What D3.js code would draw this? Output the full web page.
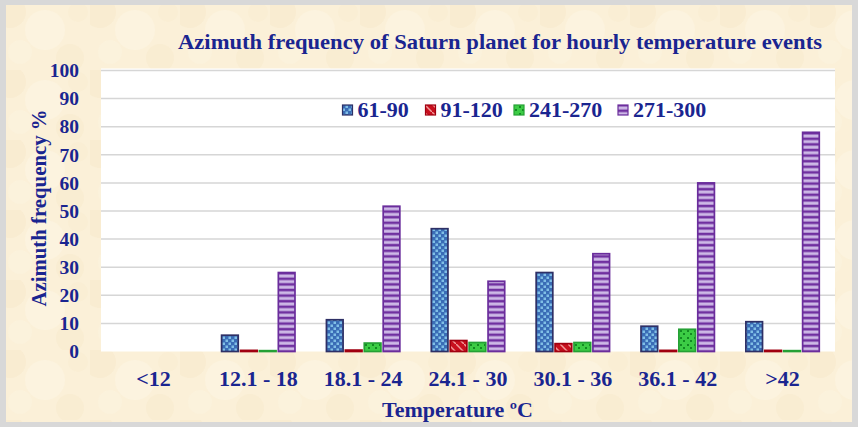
<!DOCTYPE html>
<html><head><meta charset="utf-8">
<script src="https://cdn.jsdelivr.net/npm/d3@7"></script>
<style>html,body{margin:0;padding:0;background:#fff;}svg{display:block;}</style>
</head><body>
<svg id="c" width="858" height="427"></svg>
<script>
const categories = ["<12", "12.1 - 18", "18.1 - 24", "24.1 - 30", "30.1 - 36", "36.1 - 42", ">42"];
const seriesNames = ["61-90", "91-120", "241-270", "271-300"];
const s61_90   = [0, 5.8, 11.3, 43.7, 28.1, 9.0, 10.6];
const s91_120  = [0, 0.4, 0.5, 3.9, 2.8, 0.4, 0.4];
const s241_270 = [0, 0.3, 3.0, 3.2, 3.2, 7.9, 0.3];
const s271_300 = [0, 28.1, 51.7, 25.0, 34.8, 60.0, 78.0];
const yTicks = [0, 10, 20, 30, 40, 50, 60, 70, 80, 90, 100];
const title = "Azimuth frequency of Saturn planet for hourly temperature events";
const xTitle = "Temperature ºC";
const yTitle = "Azimuth frequency %";

const series = [s61_90, s91_120, s241_270, s271_300];
const navy = "#1a2590";
const FONT = "'Liberation Serif', 'Times New Roman', serif";
const svg = d3.select("#c");
const W = 858, H = 427;
const m = {left: 101, right: 835, top: 70.5, bottom: 351.5};

const defs = svg.append("defs");
const bg = defs.append("pattern").attr("id","bg").attr("patternUnits","userSpaceOnUse").attr("width",90).attr("height",70);
bg.append("rect").attr("width",90).attr("height",70).attr("fill","#fbf0d8");
[[10,12,16,"#f6e7c7"],[45,30,20,"#fdf6e6"],[70,58,14,"#f7e9cb"],[20,52,12,"#fcf4e1"],[78,12,10,"#f8ebcf"]].forEach(d=>{
  bg.append("circle").attr("cx",d[0]).attr("cy",d[1]).attr("r",d[2]).attr("fill",d[3]).attr("opacity",0.45);
});

const p1 = defs.append("pattern").attr("id","p0").attr("patternUnits","userSpaceOnUse").attr("width",6).attr("height",6);
p1.append("rect").attr("width",6).attr("height",6).attr("fill","#3a6cb6");
p1.append("rect").attr("x",0.5).attr("y",0.5).attr("width",2.5).attr("height",2.5).attr("fill","#80bfe6");
p1.append("rect").attr("x",3.5).attr("y",3.5).attr("width",2.5).attr("height",2.5).attr("fill","#80bfe6");

const p2 = defs.append("pattern").attr("id","p1").attr("patternUnits","userSpaceOnUse").attr("width",8).attr("height",8);
p2.append("rect").attr("width",8).attr("height",8).attr("fill","#c8101e");
p2.append("path").attr("d","M0,0 L8,8").attr("stroke","#f29a9a").attr("stroke-width",1.5);

const p3 = defs.append("pattern").attr("id","p2").attr("patternUnits","userSpaceOnUse").attr("width",7).attr("height",7);
p3.append("rect").attr("width",7).attr("height",7).attr("fill","#3ccc45");
p3.append("rect").attr("x",1).attr("y",1).attr("width",2).attr("height",2).attr("fill","#138a22");
p3.append("rect").attr("x",4).attr("y",4).attr("width",2).attr("height",2).attr("fill","#138a22");

const p4 = defs.append("pattern").attr("id","p3").attr("patternUnits","userSpaceOnUse").attr("width",40).attr("height",5.6)
  .attr("y", m.bottom);
p4.append("rect").attr("width",40).attr("height",5.6).attr("fill","#7030a0");
p4.append("rect").attr("x",0).attr("y",1.4).attr("width",40).attr("height",3).attr("fill","#cdb9e6");

const strokeCols = ["#2e3066","#a00010","#25a035","#6a2d9c"];
const fillIds = ["url(#p0)","url(#p1)","url(#p2)","url(#p3)"];

svg.append("rect").attr("x",0).attr("y",0).attr("width",W).attr("height",H).attr("fill","#d8d8d8");
svg.append("rect").attr("x",6).attr("y",5).attr("width",W-12).attr("height",H-10).attr("fill","url(#bg)");

svg.append("rect").attr("x",m.left).attr("y",m.top-2).attr("width",m.right-m.left).attr("height",m.bottom-m.top+2).attr("fill","#ffffff");

const x0 = d3.scaleBand().domain(categories).range([m.left, m.right]).paddingInner(0.3).paddingOuter(0.15);
const x1 = d3.scaleBand().domain(seriesNames).range([0, x0.bandwidth()]).paddingInner(0.12);
const y = d3.scaleLinear().domain([0,100]).range([m.bottom, m.top]);

svg.append("g").selectAll("line").data(yTicks.filter(d=>d>0)).join("line")
  .attr("x1",m.left).attr("x2",m.right).attr("y1",d=>y(d)).attr("y2",d=>y(d))
  .attr("stroke","#d6d6d6").attr("stroke-width",1.5);

const yAxis = d3.axisLeft(y).tickValues(yTicks).tickSize(0).tickPadding(22);
const gy = svg.append("g").attr("transform",`translate(${m.left},0)`).call(yAxis);
gy.select(".domain").remove();
gy.selectAll("text").attr("fill",navy).attr("font-family",FONT).attr("font-weight","bold").attr("font-size",19.5);

const xAxis = d3.axisBottom(x0).tickSize(0).tickPadding(19);
const gx = svg.append("g").attr("transform",`translate(0,${m.bottom})`).call(xAxis);
gx.select(".domain").remove();
gx.selectAll("text").attr("fill",navy).attr("font-family",FONT).attr("font-weight","bold").attr("font-size",22);

const rows = [];
categories.forEach((c,i)=>{
  seriesNames.forEach((s,j)=>{
    rows.push({cat:c, ser:s, j:j, v:series[j][i]});
  });
});
svg.append("g").selectAll("rect").data(rows.filter(d=>d.v>0)).join("rect")
  .attr("x",d=>x0(d.cat)+x1(d.ser))
  .attr("y",d=>y(d.v))
  .attr("width",x1.bandwidth())
  .attr("height",d=>y(0)-y(d.v))
  .attr("fill",d=>fillIds[d.j])
  .attr("stroke",d=>strokeCols[d.j])
  .attr("stroke-width",1.7);

svg.append("text").attr("x",500).attr("y",49).attr("text-anchor","middle")
  .attr("fill",navy).attr("font-family",FONT).attr("font-weight","bold").attr("font-size",21)
  .attr("textLength",644).attr("lengthAdjust","spacingAndGlyphs")
  .text(title);

svg.append("text").attr("x",457.5).attr("y",417).attr("text-anchor","middle")
  .attr("fill",navy).attr("font-family",FONT).attr("font-weight","bold").attr("font-size",22)
  .text(xTitle);
svg.append("text").attr("transform","translate(46,208) rotate(-90)").attr("text-anchor","middle")
  .attr("fill",navy).attr("font-family",FONT).attr("font-weight","bold").attr("font-size",20.8)
  .text(yTitle);

const legX = [342.5, 425.5, 514, 618];
const lg = svg.append("g");
seriesNames.forEach((s,j)=>{
  lg.append("rect").attr("x",legX[j]).attr("y",105).attr("width",10).attr("height",10)
    .attr("fill",fillIds[j]).attr("stroke",strokeCols[j]).attr("stroke-width",1.2);
  lg.append("text").attr("x",legX[j]+15).attr("y",116.5)
    .attr("fill",navy).attr("font-family",FONT).attr("font-weight","bold").attr("font-size",22)
    .text(s);
});
</script>
</body></html>
